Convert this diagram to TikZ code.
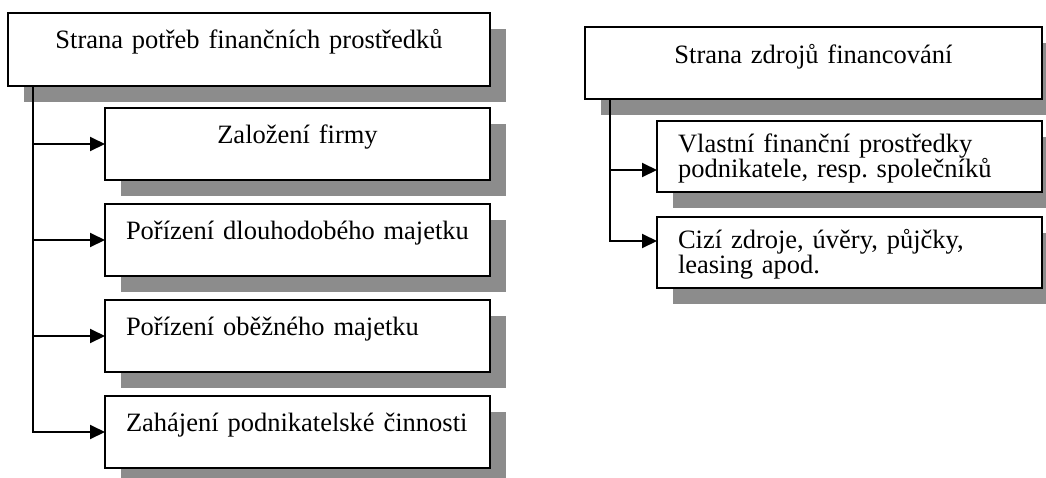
\documentclass[tikz,border=0pt]{standalone}
\usepackage{fontspec}
\setmainfont{Liberation Serif}
\usepackage{tikz}
\usetikzlibrary{arrows.meta, positioning, shadows}
\frenchspacing
\newcommand{\boxfont}{\fontsize{26.5}{25}\selectfont\lineskiplimit=-10pt}

\begin{document}
\begin{tikzpicture}[x=1pt, y=-1pt,
    box/.style={rectangle, draw=black, line width=2.5pt, outer sep=0pt, fill=white, font=\boxfont, inner xsep=21pt, inner ysep=0pt, text height=35pt, text depth=37pt, text width=343pt, align=left, drop shadow={shadow xshift=16pt, shadow yshift=-16pt, fill=black!45, opacity=1}},
    head/.style={box, align=center, text depth=38pt},
    arrow/.style={-{Triangle[length=15pt, width=14pt]}, line width=2pt}
]
\useasboundingbox (0,0) rectangle (1046,477);

\node[head, text width=440pt, anchor=north west] (p) at (8,13) {Strana potřeb finančních prostředků};
\node[box, align=center, below=22pt of p.south east, anchor=north east] (p1) {Založení firmy};
\node[box, below=24pt of p1] (p2) {Pořízení dlouhodobého majetku};
\node[box, below=24pt of p2] (p3) {Pořízení oběžného majetku};
\node[box, below=24pt of p3] (p4) {Zahájení podnikatelské činnosti};

\node[head, text width=415pt, text height=36pt, text depth=36pt, anchor=north west] (z) at (585,27) {Strana zdrojů financování};
\node[box, text height=31pt, text depth=40pt, below=22pt of z.south east, anchor=north east] (z1) {Vlastní finanční prostředky\\podnikatele, resp. společníků};
\node[box, text height=31pt, text depth=40pt, below=25pt of z1] (z2) {Cizí zdroje, úvěry, půjčky,\\leasing apod.};

\coordinate (pk) at ([xshift=25pt]p.south west);
\coordinate (zk) at ([xshift=25pt]z.south west);

\draw[arrow] (pk) |- (p1.west);
\draw[arrow] (pk) |- (p2.west);
\draw[arrow] (pk) |- (p3.west);
\draw[arrow] (pk) |- (p4.west);

\draw[arrow] (zk) |- ([yshift=-13.5pt]z1.west);
\draw[arrow] (zk) |- ([yshift=11.5pt]z2.west);
\end{tikzpicture}
\end{document}
